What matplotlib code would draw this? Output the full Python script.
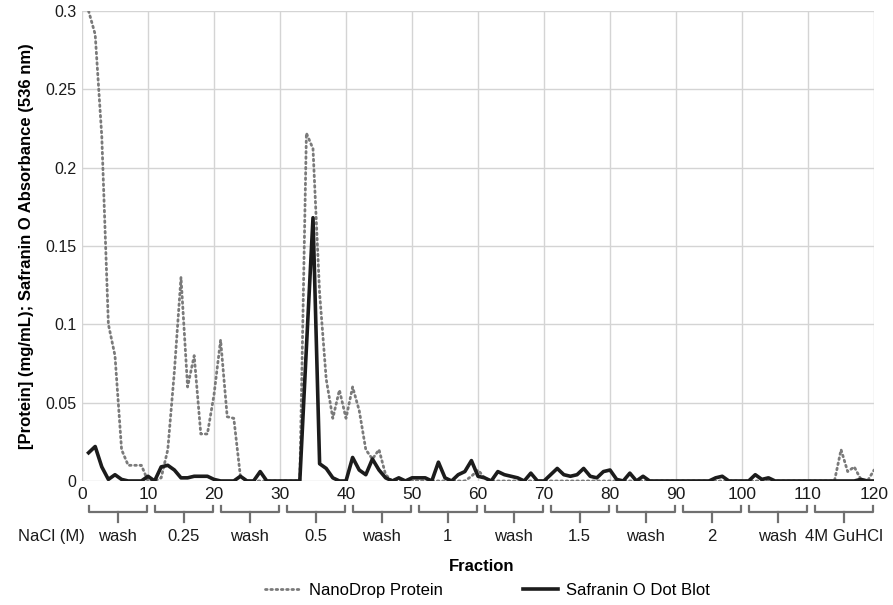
"""Protein and Safranin O profile across NaCl step-gradient fractions."""

import matplotlib

matplotlib.use("Agg")
import matplotlib.pyplot as plt
from matplotlib.transforms import blended_transform_factory

plt.rcParams["font.family"] = ["Liberation Sans", "DejaVu Sans"]

fractions = list(range(1, 121))

# NanoDrop protein (mg/mL), fractions 1..120
protein = [
    0.300, 0.285, 0.220, 0.100, 0.080, 0.020, 0.010, 0.010, 0.010, 0.000,
    0.000, 0.002, 0.020, 0.070, 0.130, 0.060, 0.080, 0.030, 0.030, 0.055,
    0.090, 0.041, 0.040, 0.003, 0.000, 0.000, 0.000, 0.000, 0.000, 0.000,
    0.000, 0.000, 0.000, 0.222, 0.212, 0.120, 0.065, 0.040, 0.058, 0.040,
    0.060, 0.045, 0.020, 0.014, 0.020, 0.004, 0.000, 0.000, 0.000, 0.000,
    0.000, 0.000, 0.000, 0.000, 0.000, 0.000, 0.000, 0.000, 0.003, 0.007,
    0.002, 0.000, 0.000, 0.000, 0.000, 0.000, 0.000, 0.000, 0.000, 0.000,
    0.000, 0.000, 0.000, 0.000, 0.000, 0.000, 0.000, 0.000, 0.000, 0.000,
    0.000, 0.000, 0.000, 0.000, 0.000, 0.000, 0.000, 0.000, 0.000, 0.000,
    0.000, 0.000, 0.000, 0.000, 0.000, 0.000, 0.000, 0.000, 0.000, 0.000,
    0.000, 0.000, 0.000, 0.000, 0.000, 0.000, 0.000, 0.000, 0.000, 0.000,
    0.000, 0.000, 0.000, 0.000, 0.020, 0.006, 0.009, 0.001, 0.000, 0.007,
]

# Safranin O dot blot absorbance (536 nm), fractions 1..120
safranin = [
    0.018, 0.022, 0.009, 0.001, 0.004, 0.001, 0.000, 0.000, 0.000, 0.003,
    0.000, 0.009, 0.010, 0.007, 0.002, 0.002, 0.003, 0.003, 0.003, 0.001,
    0.000, 0.000, 0.000, 0.003, 0.000, 0.000, 0.006, 0.000, 0.000, 0.000,
    0.000, 0.000, 0.000, 0.085, 0.168, 0.011, 0.008, 0.002, 0.000, 0.000,
    0.015, 0.007, 0.004, 0.014, 0.007, 0.002, 0.000, 0.002, 0.000, 0.002,
    0.002, 0.002, 0.000, 0.012, 0.002, 0.000, 0.004, 0.006, 0.013, 0.003,
    0.002, 0.000, 0.006, 0.004, 0.003, 0.002, 0.000, 0.005, 0.000, 0.000,
    0.004, 0.008, 0.004, 0.003, 0.004, 0.008, 0.003, 0.002, 0.006, 0.007,
    0.001, 0.000, 0.005, 0.000, 0.003, 0.000, 0.000, 0.000, 0.000, 0.000,
    0.000, 0.000, 0.000, 0.000, 0.000, 0.002, 0.003, 0.000, 0.000, 0.000,
    0.000, 0.004, 0.001, 0.002, 0.000, 0.000, 0.000, 0.000, 0.000, 0.000,
    0.000, 0.000, 0.000, 0.000, 0.000, 0.000, 0.000, 0.001, 0.000, 0.000,
]

group_labels = ["wash", "0.25", "wash", "0.5", "wash", "1",
                "wash", "1.5", "wash", "2", "wash", "4M GuHCl"]
group_starts = [0, 10, 20, 30, 40, 50, 60, 70, 80, 90, 100, 110]

x_ticks = list(range(0, 121, 10))
y_ticks = [0, 0.05, 0.1, 0.15, 0.2, 0.25, 0.3]
y_tick_labels = ["0", "0.05", "0.1", "0.15", "0.2", "0.25", "0.3"]

fig = plt.figure(figsize=(8.93, 6.05), dpi=100)
ax = fig.add_axes([0.0918, 0.205, 0.887, 0.777])

ax.plot(fractions, protein, color="#7a7a7a", lw=2.0, ls=(0, (0.6, 1.3)),
        dash_capstyle="round", label="NanoDrop Protein")
ax.plot(fractions, safranin, color="#1c1c1c", lw=2.6,
        solid_joinstyle="round", label="Safranin O Dot Blot")

ax.set_xlim(0, 120)
ax.set_ylim(0, 0.3)
ax.set_xticks(x_ticks)
ax.set_yticks(y_ticks)
ax.set_yticklabels(y_tick_labels)
ax.tick_params(length=0, colors="#1a1a1a")
ax.tick_params(axis="x", labelsize=12.5, pad=4)
ax.tick_params(axis="y", labelsize=11.5, pad=4)
ax.grid(True, color="#d4d4d4", lw=1.0)
ax.set_axisbelow(True)
for spine in ax.spines.values():
    spine.set_visible(False)

ax.set_ylabel("[Protein] (mg/mL); Safranin O Absorbance (536 nm)",
              fontsize=12, fontweight="bold", labelpad=8)

# buffer brackets under the fraction axis
trans = blended_transform_factory(ax.transData, ax.transAxes)
bracket_color = "#707070"
y_end, y_bar, y_tip, y_text = -0.053, -0.065, -0.087, -0.118
for start, label in zip(group_starts, group_labels):
    lo, hi = start + 1.0, start + 9.8
    mid = (lo + hi) / 2
    ax.plot([lo, lo, hi, hi], [y_end, y_bar, y_bar, y_end], color=bracket_color,
            lw=1.6, transform=trans, clip_on=False, solid_joinstyle="round")
    ax.plot([mid, mid], [y_bar, y_tip], color=bracket_color, lw=1.6,
            transform=trans, clip_on=False)
    ax.text(mid, y_text, label, transform=trans, ha="center", va="center",
            fontsize=12, color="#1a1a1a")
ax.text(-4.6, y_text, "NaCl (M)", transform=trans, ha="center", va="center",
        fontsize=12, color="#1a1a1a")

fig.text(0.539, 0.063, "Fraction", ha="center", va="center",
         fontsize=12, fontweight="bold")

fig.legend(loc="center", bbox_to_anchor=(0.546, 0.024), ncol=2, frameon=False,
           fontsize=12, handlelength=2.1, columnspacing=4.8, handletextpad=0.5)

fig.savefig("out.png", dpi=100)
